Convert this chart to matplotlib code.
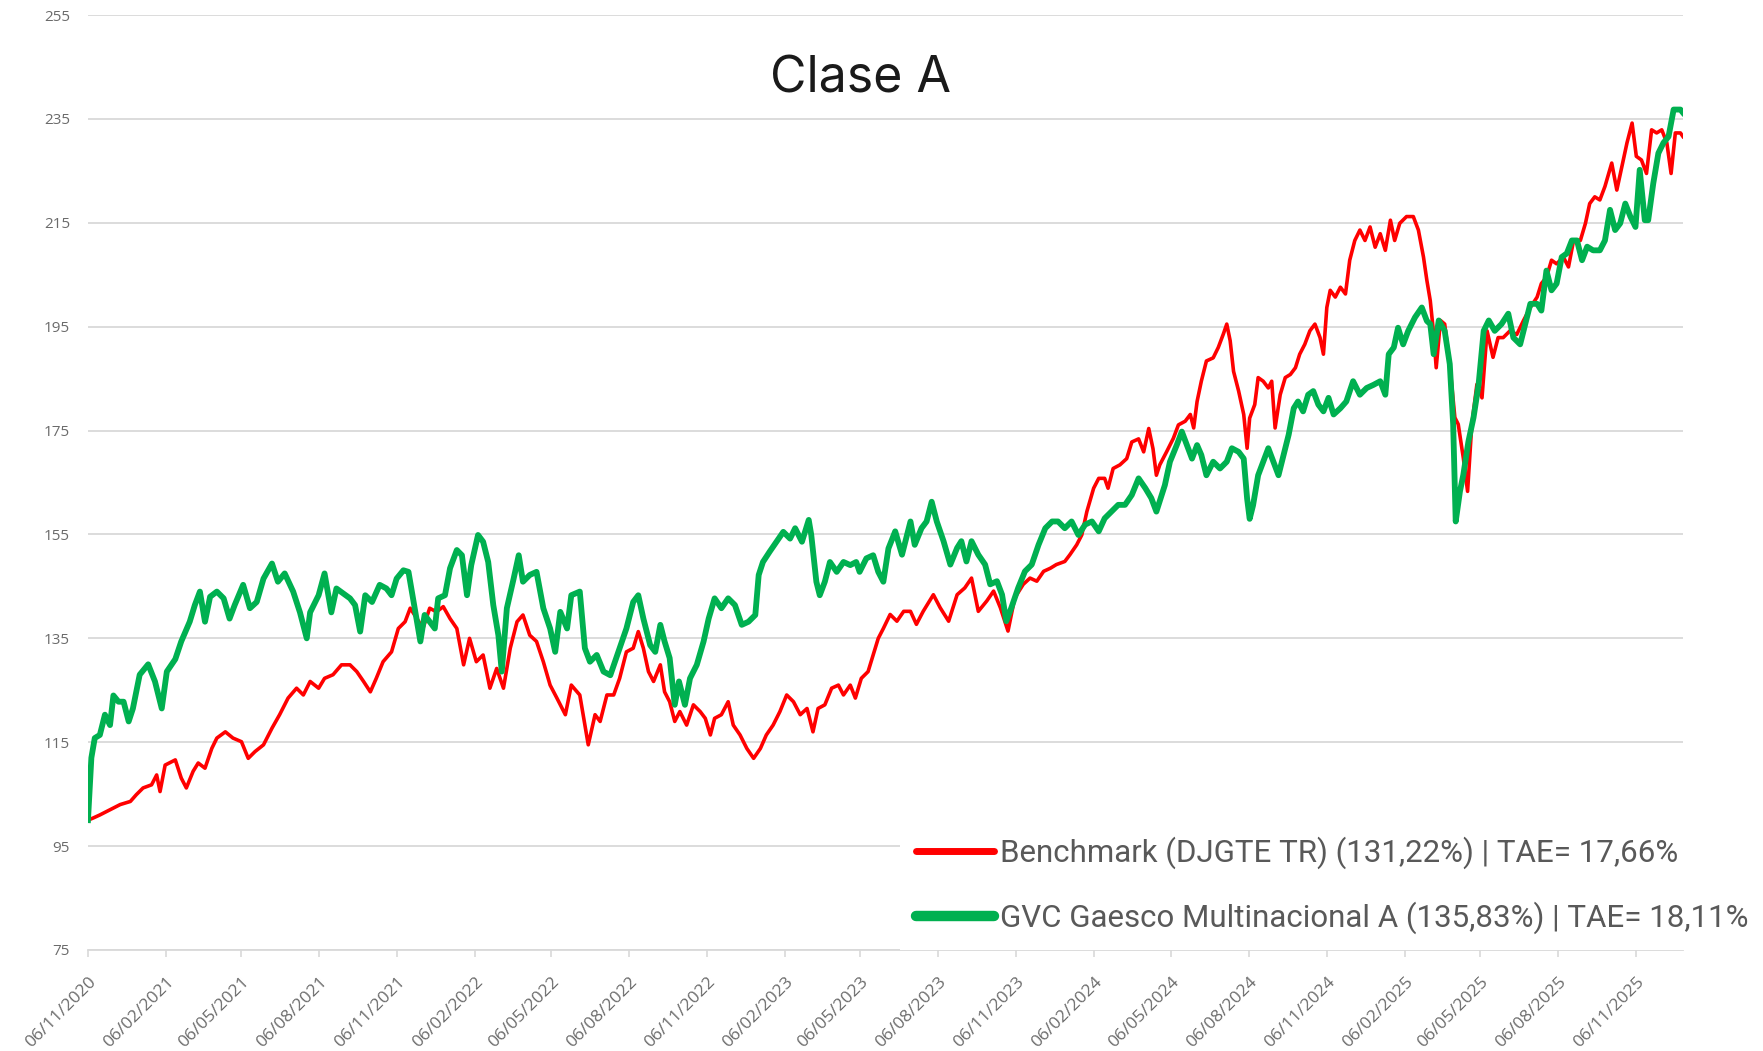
import matplotlib.pyplot as plt
import matplotlib.dates as mdate
from matplotlib.lines import Line2D
import pandas as pd

# days after 06/11/2020 and index value (base 100)
start = pd.Timestamp('2020-11-06')

bench_days = [0, 6, 14, 26, 38, 50, 57, 65, 75, 81, 85, 91, 103, 110, 116, 124, 130, 138, 146, 152,
              162, 171, 181, 189, 197, 207, 217, 226, 236, 246, 254, 262, 272, 279, 289, 299,
              309, 317, 325, 333, 340, 348, 358, 366, 374, 380, 388, 395, 403, 411, 419, 427, 435,
              443, 450, 458, 466, 474, 482, 490, 498, 506, 513, 521, 529, 537, 545, 553, 563, 570,
              580, 590, 598, 604, 612, 620,
              627, 635, 643, 649, 655, 661, 667, 675, 680, 686, 692, 698, 706, 714, 722, 728, 734,
              739, 747, 755, 761, 769, 777, 785, 793, 800, 808, 816, 824, 832, 840, 848, 855, 861,
              869, 877, 885, 891, 899, 905, 912, 920, 926, 932, 938,
              946, 954, 962, 970, 977, 985, 997, 1005, 1015, 1025, 1034, 1042, 1050, 1060, 1068,
              1076, 1085, 1093, 1103, 1111, 1119, 1127, 1135, 1142, 1152, 1158, 1166, 1172, 1178,
              1186, 1192, 1199, 1203, 1209, 1217, 1225, 1231, 1239, 1245, 1251, 1256, 1260,
              1264, 1272, 1280, 1286, 1294, 1300, 1304, 1308, 1313, 1319, 1327, 1333, 1339, 1343,
              1347, 1351, 1357, 1363, 1367, 1370, 1376, 1380, 1386, 1392, 1396, 1400, 1406, 1412,
              1418, 1424, 1429, 1435, 1441, 1447, 1453, 1457, 1461, 1465, 1471, 1477, 1483, 1488,
              1494, 1500, 1506, 1512, 1518, 1524, 1530, 1536, 1541, 1547, 1555, 1563, 1569, 1575,
              1579, 1583, 1587, 1590,
              1595, 1600, 1606, 1612, 1616, 1622, 1627, 1632, 1638, 1644, 1650, 1657, 1663, 1669,
              1677, 1685, 1693, 1701, 1709, 1714, 1720, 1726, 1732, 1740, 1746, 1752, 1760, 1766,
              1771, 1777, 1783, 1789, 1797, 1803, 1809, 1815, 1821, 1826, 1832, 1838, 1844, 1850,
              1856, 1862, 1867, 1872, 1878, 1881]
bench_vals = [100, 100.4, 101, 102, 103, 103.6, 104.9, 106.2, 106.8, 108.7, 105.5, 110.6, 111.6, 108.1,
              106.2, 109.4, 111, 110, 113.8, 115.8, 117, 115.8, 115.1, 111.9, 113.2, 114.5, 117.7,
              120.3, 123.5, 125.4, 124.1, 126.7, 125.4, 127.3, 128, 129.9,
              129.9, 128.6, 126.7, 124.7, 127.3, 130.5, 132.4, 136.9, 138.2, 140.8, 138.8, 136.9,
              140.8, 140.1, 141.1, 138.8, 136.9, 129.9, 135, 130.5, 131.8, 125.4, 129.2, 125.4,
              133.1, 138.2, 139.5, 135.6, 134.4, 130.5, 126, 123.5, 120.3, 126, 124.1, 114.5, 120.3,
              119, 124.1, 124.1,
              127.3, 132.4, 133.1, 136.3, 133.1, 128.6, 126.7, 129.9, 124.7, 122.8, 119, 120.9,
              118.3, 122.2, 120.9, 119.6, 116.4, 119.6, 120.3, 122.8, 118.3, 116.4, 113.8, 111.9,
              113.8, 116.4, 118.3, 120.9, 124.1, 122.8, 120.3, 121.5, 117, 121.5, 122.2, 125.4, 126,
              124.1, 126, 123.5, 127.3, 128.6, 131.8, 135, 136.9,
              139.6, 138.3, 140.2, 140.2, 137.7, 140.2, 143.4, 140.9, 138.3, 143.4, 144.7, 146.6,
              140.2, 142.2, 144.1, 140.9, 136.4, 142.8, 145.4, 146.6, 146, 147.9, 148.5, 149.2,
              149.8, 151.1, 153, 154.9, 159.4, 163.9, 165.8, 165.8, 163.9, 167.7, 168.4, 169.6,
              172.8, 173.4, 170.9, 175.4, 171.5, 166.4,
              168.4, 170.9, 173.5, 176.1, 176.8, 178.1, 175.5, 180.6, 184.5, 188.4, 189, 191, 193.6,
              195.5, 192.3, 186.4, 182.6, 178.1, 171.6, 177.4, 180, 185.2, 184.5, 183.2, 184.5,
              175.5, 181.9, 185.2, 185.8, 187.1, 189.7, 191.6, 194.2, 195.5, 192.9, 189.7, 198.7,
              202, 200.7, 202.6, 201.3, 207.8, 211.6, 213.6, 211.6, 214.2, 210.3, 212.9, 209.7,
              215.5, 211.6, 214.9, 216.2, 216.2, 213.6, 208.4, 203.9, 200, 193.6, 187.1,
              196.2, 195.5, 187.8, 177.5, 176.2, 169.7, 163.3, 176.2, 183.9, 181.3, 194.2, 189.1,
              192.9, 192.9, 194.2, 193.5, 196.2, 198.7, 200.7, 203.3, 204.5, 207.8, 207.1, 208.4,
              206.5, 211.6, 211.6, 214.9, 218.7, 220, 219.4, 222, 226.5, 221.3, 225.8, 230.4,
              234.2, 227.8, 227.1, 224.5, 232.9, 232.3, 232.9, 230.4, 224.5, 232.3, 232.3, 231.6]

fund_days = [0, 4, 8, 14, 20, 26, 30, 36, 42, 48, 53, 61, 71, 79, 87, 93, 103, 110, 120, 126, 132,
             138, 144, 152, 160, 167, 173, 183, 191, 199, 207, 217, 224, 232, 242, 250, 258, 262,
             272, 279, 287, 293,
             309, 315, 321, 327, 335, 344, 352, 358, 364, 372, 378, 382, 388, 392, 397, 403, 409,
             413, 421, 427, 435, 441, 447, 452, 460, 466, 472, 478, 484, 488, 494, 502, 508, 513,
             521, 529, 537, 545, 551, 557, 565, 570, 580, 586, 592, 600, 608, 616,
             627, 635, 643, 649, 655, 663, 669, 675, 680, 686, 692, 697, 704, 710, 718, 726, 732,
             739, 747, 755, 763, 771, 779, 787, 791, 796, 804, 812, 820, 828, 834, 842, 850, 853,
             859, 863, 869, 875, 883, 891, 899, 906, 910, 918, 926, 932, 938, 944,
             952, 960, 970, 975, 983, 989, 995, 1001, 1009, 1017, 1025, 1030, 1036, 1042, 1050,
             1058, 1064, 1072, 1078, 1083, 1089, 1097, 1105, 1113, 1121, 1129, 1137, 1144, 1152,
             1160, 1168, 1176, 1184, 1192, 1199, 1207, 1215, 1223, 1231, 1239, 1247, 1254, 1260,
             1270, 1276, 1284, 1290, 1296, 1302, 1308, 1313, 1319, 1327, 1335, 1343, 1349, 1357,
             1363, 1367, 1370, 1374, 1380, 1386, 1392, 1398, 1404, 1410, 1416, 1422, 1427, 1433,
             1439, 1445, 1451, 1457, 1463, 1469, 1477, 1484, 1492, 1500, 1508, 1516, 1524, 1530,
             1534, 1540, 1545, 1551, 1557, 1565, 1573, 1579,
             1583, 1587, 1593, 1600, 1606, 1610, 1613, 1618, 1622, 1628, 1634, 1640, 1646, 1652,
             1659, 1667, 1675, 1681, 1689, 1695, 1701, 1709, 1714, 1720, 1726, 1732, 1738, 1744,
             1750, 1756, 1762, 1768, 1775, 1783, 1789, 1795, 1801, 1807, 1813, 1819, 1825, 1830,
             1836, 1840, 1846, 1852, 1858, 1864, 1870, 1878, 1881]
fund_vals = [100, 112, 115.8, 116.4, 120.3, 118.3, 124, 122.8, 122.8, 119, 121.5, 128, 130, 126.7,
             121.5, 128.6, 131, 134.4, 138.2, 141.4, 144, 138.2, 143, 144, 142.7, 138.8, 141.4,
             145.3, 140.8, 142, 146.5, 149.4, 145.9, 147.5, 144, 140, 135, 140, 143.3, 147.5, 140,
             144.6,
             142.7, 141.4, 136.3, 143.3, 142, 145.3, 144.6, 143.3, 146.5, 148.1, 147.8, 144, 138.2,
             134.4, 139.5, 138.2, 136.9, 142.7, 143.3, 148.5, 152, 151, 143.3, 149.1, 154.9, 153.6,
             149.7, 141.4, 135.6, 128.6, 140.8, 146.5, 151, 145.9, 147.2, 147.8, 140.8, 136.9,
             132.4, 140.1, 136.9, 143.3, 144, 133.1, 130.5, 131.8, 128.6, 127.9,
             133.1, 136.9, 142, 143.3, 138.8, 133.7, 132.4, 137.6, 134.4, 131.2, 122.2, 126.7,
             122.2, 127.3, 129.9, 134.4, 138.8, 142.7, 140.8, 142.7, 141.4, 137.6, 138.2, 139.5,
             147.2, 149.7, 151.7, 153.6, 155.5, 154.2, 156.2, 153.6, 157.8, 154.9, 145.9, 143.3,
             145.9, 149.7, 147.8, 149.7, 149.1, 149.7, 147.8, 150.4, 151, 147.8, 145.9, 152.3,
             155.6, 151.1, 157.5, 153, 156.2, 157.5, 161.3, 157.5, 153.7, 149.2, 152.4, 153.7,
             149.8, 153.7, 151.1, 149.2, 145.4, 146, 143.4, 138.3, 140.9, 144.7, 147.9, 149.2, 153,
             156.2, 157.5, 157.5, 156.2, 157.5, 154.9, 156.9, 157.5, 155.6, 158.1, 159.4, 160.7,
             160.7, 162.6, 165.8, 163.9, 162, 159.4,
             164.5, 169, 172.2, 174.8, 172.2, 169.6, 172.2, 170.3, 166.4, 169, 167.7, 169, 171.6,
             170.9, 169.6, 161.9, 158, 160.6, 166.4, 169, 171.6, 169, 166.4, 170.3, 174.2, 179.3,
             180.6, 178.7, 181.9, 182.6, 180, 178.7, 181.3, 178.1, 179.3, 180.6, 184.5, 181.9,
             183.2, 183.8, 184.5, 181.9, 189.7, 191, 194.8, 191.6, 194.2, 196.8, 198.7, 196.1,
             195.5, 189.7, 196.2, 194.2, 187.8, 176.2, 157.5, 163.3, 166.5, 172.9, 177.5, 183.9,
             194.2, 196.2, 194.2, 195.5, 197.5, 192.9, 191.6, 195.5, 199.4, 199.4, 198.1, 205.8,
             202, 203.3, 208.4, 209.1, 211.6, 211.6, 207.8, 210.4, 209.7, 209.7, 211.6, 217.5,
             213.6, 214.9, 218.7, 216.2, 214.2, 225.2, 215.5, 215.5, 222.6, 228.4, 230.4, 231.6,
             236.8, 236.8, 236.2]

bench_label = 'Benchmark (DJGTE TR) (131,22%) | TAE= 17,66%'
fund_label = 'GVC Gaesco Multinacional A (135,83%) | TAE= 18,11%'
y_ticks = [75, 95, 115, 135, 155, 175, 195, 215, 235, 255]

bench_dates = start + pd.to_timedelta(bench_days, unit='D')
fund_dates = start + pd.to_timedelta(fund_days, unit='D')
# quarterly ticks on the 6th: 06/11/2020 ... 06/11/2025
tick_dates = pd.date_range('2020-11-01', periods=21, freq='3MS') + pd.Timedelta(days=5)

red = '#FF0000'
green = '#00B050'
grey_text = '#6b6b6b'
grid_col = '#d9d9d9'

fig = plt.figure(figsize=(17.63, 10.51), dpi=100)
ax = fig.add_axes([0.0499, 0.0961, 0.9047, 0.8896])

ax.plot(bench_dates, bench_vals, color=red, linewidth=2.6, zorder=3)
ax.plot(fund_dates, fund_vals, color=green, linewidth=4.2, zorder=4)

ax.set_ylim(75, 255)
ax.set_yticks(y_ticks)
ax.set_xlim(start, start + pd.Timedelta(days=1881))
ax.set_xticks(tick_dates)
ax.xaxis.set_major_formatter(mdate.DateFormatter('%d/%m/%Y'))

ax.grid(axis='y', color=grid_col, linewidth=1.3)
ax.set_axisbelow(True)
for side in ['top', 'right', 'left']:
    ax.spines[side].set_visible(False)
ax.spines['bottom'].set_color(grid_col)
ax.spines['bottom'].set_linewidth(1.3)

ax.tick_params(axis='y', length=0, pad=13, labelsize=11, labelcolor=grey_text)
ax.tick_params(axis='x', length=5, width=1.2, color=grid_col, pad=12,
               labelsize=12.5, labelcolor=grey_text)
for lab in ax.get_yticklabels() + ax.get_xticklabels():
    lab.set_family(['Open Sans', 'DejaVu Sans'])
for lab in ax.get_xticklabels():
    lab.set_rotation(45)
    lab.set_ha('right')
    lab.set_va('top')
    lab.set_rotation_mode('anchor')

fig.text(0.488, 0.925, 'Clase A', ha='center', va='center', fontsize=36,
         family=['Inter', 'DejaVu Sans'], color='#1a1a1a')

handles = [Line2D([], [], color=red, linewidth=5, solid_capstyle='round'),
           Line2D([], [], color=green, linewidth=7.5, solid_capstyle='round')]
leg = fig.legend(handles, [bench_label, fund_label], loc='center left',
                 bbox_to_anchor=(0.5105, 0.1575), bbox_transform=fig.transFigure,
                 frameon=True, facecolor='white', edgecolor='none', framealpha=1,
                 fancybox=False, borderpad=0.5, borderaxespad=0, handlelength=2.5,
                 handletextpad=0.2, labelspacing=1.05,
                 prop={'family': ['Roboto', 'DejaVu Sans'], 'size': 22.5})
for t in leg.get_texts():
    t.set_color('#595959')

fig.savefig('out.png', dpi=100)
